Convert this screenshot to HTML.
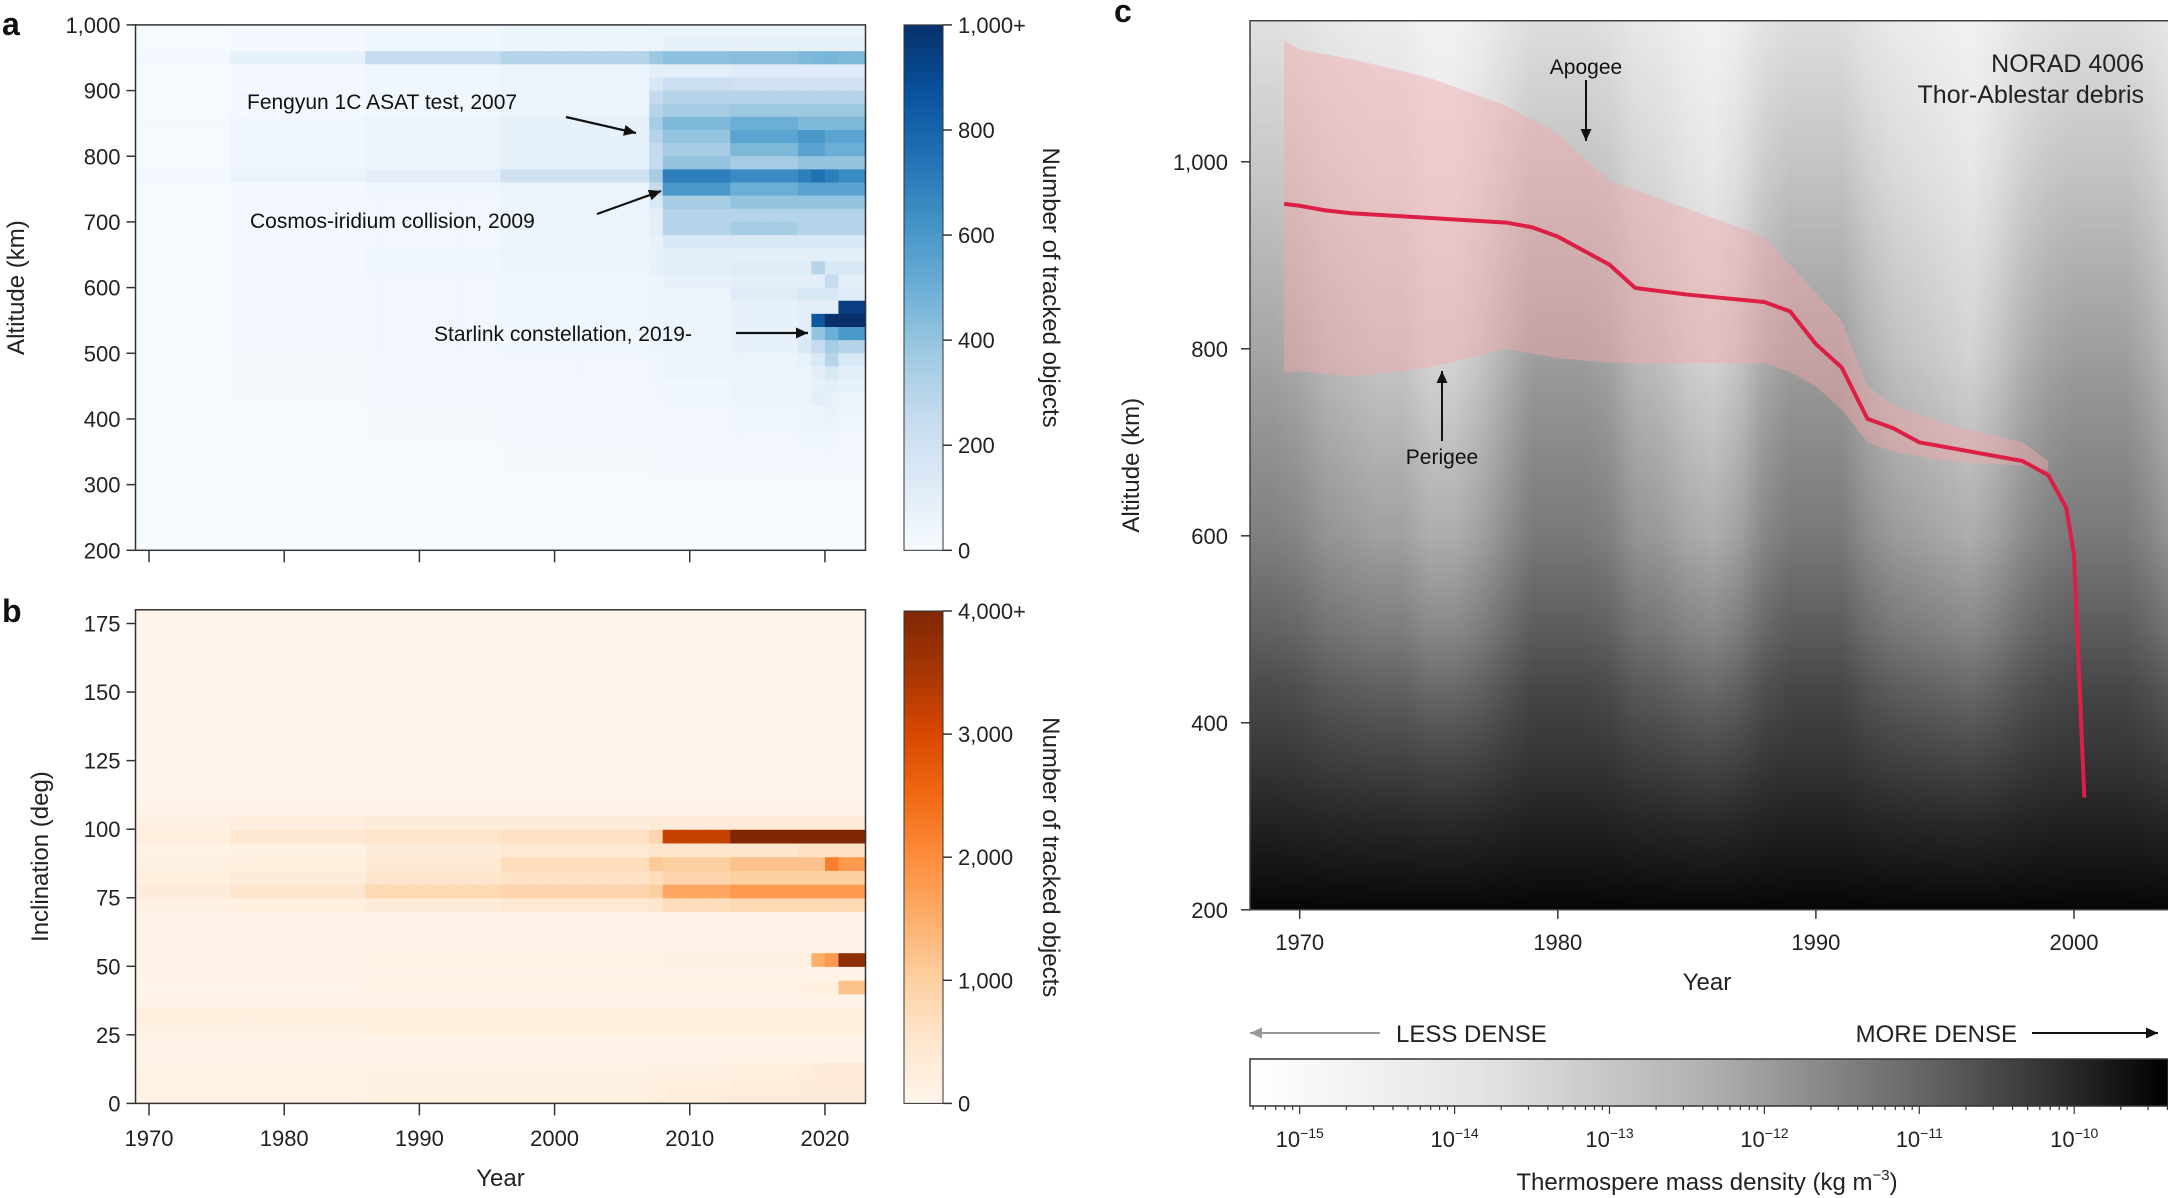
<!DOCTYPE html>
<html><head><meta charset="utf-8"><style>
html,body{margin:0;padding:0;background:#fff;}
svg{display:block;font-family:"Liberation Sans",sans-serif;}
</style></head><body>
<svg id="fig" width="2168" height="1198" viewBox="0 0 2168 1198" xmlns="http://www.w3.org/2000/svg">
<defs>
 <linearGradient id="blueBar" x1="0" y1="1" x2="0" y2="0">
  <stop offset="0" stop-color="#f7fbff"/><stop offset="0.125" stop-color="#deebf7"/><stop offset="0.25" stop-color="#c6dbef"/><stop offset="0.375" stop-color="#9ecae1"/><stop offset="0.5" stop-color="#6baed6"/><stop offset="0.625" stop-color="#4292c6"/><stop offset="0.75" stop-color="#2171b5"/><stop offset="0.875" stop-color="#08519c"/><stop offset="1" stop-color="#08306b"/>
 </linearGradient>
 <linearGradient id="orBar" x1="0" y1="1" x2="0" y2="0">
  <stop offset="0" stop-color="#fff5eb"/><stop offset="0.125" stop-color="#fee6ce"/><stop offset="0.25" stop-color="#fdd0a2"/><stop offset="0.375" stop-color="#fdae6b"/><stop offset="0.5" stop-color="#fd8d3c"/><stop offset="0.625" stop-color="#f16913"/><stop offset="0.75" stop-color="#d94801"/><stop offset="0.875" stop-color="#a63603"/><stop offset="1" stop-color="#7f2704"/>
 </linearGradient>
 <linearGradient id="grayBar" x1="0" y1="0" x2="1" y2="0">
  <stop offset="0" stop-color="#ffffff"/><stop offset="0.25" stop-color="#e4e4e4"/><stop offset="0.5" stop-color="#b0b0b0"/><stop offset="0.75" stop-color="#606060"/><stop offset="1" stop-color="#000"/>
 </linearGradient>
 <linearGradient id="cBase" x1="0" y1="0" x2="0" y2="1">
  <stop offset="0" stop-color="#f4f4f4"/><stop offset="0.17" stop-color="#ececec"/><stop offset="0.38" stop-color="#dadada"/><stop offset="0.58" stop-color="#b4b4b4"/><stop offset="0.69" stop-color="#8c8c8c"/><stop offset="0.79" stop-color="#5c5c5c"/><stop offset="0.9" stop-color="#2c2c2c"/><stop offset="1" stop-color="#080808"/>
 </linearGradient>
 <linearGradient id="cMaskGrad" x1="0" y1="0" x2="0" y2="1">
  <stop offset="0" stop-color="#fff" stop-opacity="0.25"/><stop offset="0.4" stop-color="#fff" stop-opacity="0.8"/><stop offset="0.75" stop-color="#fff" stop-opacity="1"/><stop offset="1" stop-color="#fff" stop-opacity="0.4"/>
 </linearGradient>
 <linearGradient id="cAct" x1="0" y1="0" x2="1" y2="0" id2="act"></linearGradient>
 <mask id="cMask"><rect x="1250" y="20.7" width="918" height="889.1" fill="url(#cMaskGrad)"/></mask>
</defs>
<g id="layer"></g>
</svg>
<script>
// ---------- Panel a data (altitude bins of 20 km, top to bottom 1000->200) ----------
const aPeriodStarts = [1969,1976,1986,1996,2007,2008,2013,2018,2019,2020,2021];
const aRows = [
 [10,20,40,50,60,60,60,60,60,60,60],
 [10,20,40,50,60,80,80,80,80,80,80],
 [20,80,250,300,380,420,430,450,460,470,450],
 [10,20,40,60,100,100,120,120,120,120,120],
 [10,20,40,60,150,220,200,200,200,200,200],
 [10,20,40,60,250,300,300,300,300,300,300],
 [10,20,40,60,300,350,380,380,380,380,380],
 [15,40,60,80,350,450,500,450,450,450,450],
 [10,40,60,80,300,400,550,600,600,550,550],
 [10,40,60,80,250,350,450,550,550,500,500],
 [10,40,60,80,250,400,350,400,400,400,400],
 [20,60,100,200,350,700,650,700,750,700,650],
 [10,20,40,60,250,600,500,550,550,550,550],
 [10,20,30,60,150,350,400,400,400,400,400],
 [10,20,30,60,100,300,300,300,300,300,300],
 [10,20,30,50,100,300,350,300,300,300,300],
 [10,20,30,50,80,150,150,150,150,150,150],
 [10,20,40,60,80,100,100,100,100,100,100],
 [10,20,40,50,80,100,120,120,300,150,150],
 [10,20,30,40,60,80,100,100,100,250,100],
 [10,20,30,40,50,60,120,150,150,150,120],
 [10,20,30,40,50,60,80,100,100,100,950],
 [10,20,30,40,50,60,80,100,850,1000,1000],
 [10,20,30,40,50,60,80,120,400,500,600],
 [10,20,30,40,50,60,80,150,250,350,300],
 [10,15,20,30,40,50,60,80,150,300,150],
 [10,15,20,30,40,50,60,60,100,150,100],
 [10,15,20,25,30,40,50,60,80,100,80],
 [10,15,20,25,30,40,50,60,100,80,60],
 [10,10,15,20,25,30,40,50,60,70,50],
 [10,10,15,20,25,30,40,50,60,60,40],
 [10,10,15,20,20,25,30,40,40,40,30],
 [10,10,10,15,20,20,25,30,30,30,20],
 [10,10,10,15,15,20,20,20,20,20,20],
 [10,10,10,10,15,15,15,15,15,15,15],
 [10,10,10,10,10,10,10,10,10,10,10],
 [10,10,10,10,10,10,10,10,10,10,10],
 [10,10,10,10,10,10,10,10,10,10,10],
 [10,10,10,10,10,10,10,10,10,10,10],
 [10,10,10,10,10,10,10,10,10,10,10]
];
const aYTicks = [200,300,400,500,600,700,800,900,1000];
const aYTickLabels = ["200","300","400","500","600","700","800","900","1,000"];
const aCbTicks = [0,200,400,600,800,1000];
const aCbLabels = ["0","200","400","600","800","1,000+"];
// ---------- Panel b data (inclination bins of 5 deg, bottom to top 0->180) ----------
const bRowsByBin = {
 0:[100,100,150,150,200,250,300,300,300,300,300],
 1:[100,100,150,150,200,200,250,300,350,350,350],
 2:[80,80,100,120,150,150,200,250,300,350,350],
 5:[150,150,200,200,200,200,200,200,200,200,200],
 6:[200,200,200,200,200,200,200,200,200,200,200],
 8:[50,50,80,80,100,100,120,150,200,200,1200],
 10:[60,60,80,100,120,150,150,150,1500,1800,3800],
 14:[150,200,300,400,500,700,800,800,800,800,800],
 15:[300,500,800,900,1000,1600,1800,1800,1800,1800,1800],
 16:[200,300,500,600,700,900,1000,1000,1000,1000,1000],
 17:[150,200,400,700,1100,1000,1200,1200,1200,2200,1800],
 18:[100,150,300,400,500,500,500,600,600,600,600],
 19:[200,450,550,600,900,3200,4000,4000,4000,4000,4000],
 20:[150,250,300,300,350,350,350,350,350,350,350]
};
const bYTicks = [0,25,50,75,100,125,150,175];
const bCbTicks = [0,1000,2000,3000,4000];
const bCbLabels = ["0","1,000","2,000","3,000","4,000+"];
const abXTicks = [1970,1980,1990,2000,2010,2020];
// ---------- Panel c data ----------
const cYears   = [1969.4,1970,1971,1972,1975,1978,1979,1980,1981,1982,1983,1985,1988,1989,1990,1991,1992,1993,1994,1996,1998,1999,1999.7,2000.0,2000.2,2000.4];
const cMeanAlt = [955,953,948,945,940,935,930,920,905,890,865,858,850,840,805,780,725,715,700,690,680,665,630,580,450,320];
const cBandYears = [1969.4,1970,1972,1975,1978,1980,1982,1985,1988,1989,1990,1991,1992,1993,1995,1998,1999];
const cApogee  = [1130,1120,1110,1090,1060,1030,980,950,920,890,860,830,760,740,720,700,680];
const cPerigee = [775,776,770,780,800,790,785,785,785,775,760,735,700,690,680,675,670];
const cActYears = [1968,1969,1970,1971,1972,1973,1974,1975,1976,1977,1978,1979,1980,1981,1982,1983,1984,1985,1986,1987,1988,1989,1990,1991,1992,1993,1994,1995,1996,1997,1998,1999,2000,2001,2002,2003,2004];
const cActivity = [0.8,0.8,0.7,0.5,0.4,0.3,0.3,0.1,0.1,0.3,0.6,0.9,0.9,0.9,0.8,0.5,0.4,0.2,0.1,0.3,0.7,0.9,0.9,0.9,0.6,0.4,0.3,0.2,0.1,0.3,0.6,0.8,0.9,0.9,0.9,0.7,0.5];
const cXTicks = [1970,1980,1990,2000];
const cYTicks = [200,400,600,800,1000];
const cYTickLabels = ["200","400","600","800","1,000"];
const cDensTicks = [-15,-14,-13,-12,-11,-10];

const NS="http://www.w3.org/2000/svg";
const layer=document.getElementById('layer');
function el(tag,attrs,parent){const e=document.createElementNS(NS,tag);for(const k in attrs)e.setAttribute(k,attrs[k]);(parent||layer).appendChild(e);return e;}
function txt(s,attrs,parent){const e=el('text',attrs,parent);e.textContent=s;return e;}
function lerpColor(stops,t){t=Math.max(0,Math.min(1,t));const n=stops.length-1;const i=Math.min(n-1,Math.floor(t*n));const f=t*n-i;const a=stops[i],b=stops[i+1];const h=x=>[parseInt(x.slice(1,3),16),parseInt(x.slice(3,5),16),parseInt(x.slice(5,7),16)];const A=h(a),B=h(b);return 'rgb('+A.map((v,k)=>Math.round(v+(B[k]-v)*f)).join(',')+')';}
const blues=["#f7fbff","#deebf7","#c6dbef","#9ecae1","#6baed6","#4292c6","#2171b5","#08519c","#08306b"];
const oranges=["#fff5eb","#fee6ce","#fdd0a2","#fdae6b","#fd8d3c","#f16913","#d94801","#a63603","#7f2704"];
function periodIdx(y){let p=0;for(let i=0;i<aPeriodStarts.length;i++)if(y>=aPeriodStarts[i])p=i;return p;}

// axes a/b
const abL=135.5,abR=865.5,yr0=1969,yr1=2023;
const abX=y=>abL+(y-yr0)/(yr1-yr0)*(abR-abL);
const aT=24.9,aB=550.3; const aY=v=>aB-(v-200)/800*(aB-aT);
const bT=609.8,bB=1103.4; const bY=v=>bB-v/180*(bB-bT);

// Panel a heatmap
const ga=el('g',{});


aRows.forEach((row,r)=>{
  const top=1000-r*20;
  for(let y=1969;y<=2022;y++){
    const v=row[periodIdx(y)];
    const c=el('rect',{x:abX(y),y:aY(top),width:abX(y+1)-abX(y)+0.6,height:aY(top-20)-aY(top)+0.6,fill:lerpColor(blues,v/1000)},ga);
    
    
  }
});
el('rect',{x:abL,y:aT,width:abR-abL,height:aB-aT,fill:'none',stroke:'#333','stroke-width':1.5});
// Panel b heatmap
const gb=el('g',{});


for(let bin=0;bin<36;bin++){
  const row=bRowsByBin[bin];
  for(let y=1969;y<=2022;y++){
    const v=row?row[periodIdx(y)]:(bin<22?60:30);
    const c=el('rect',{x:abX(y),y:bY(bin*5+5),width:abX(y+1)-abX(y)+0.6,height:bY(bin*5)-bY(bin*5+5)+0.6,fill:lerpColor(oranges,v/4000)},gb);
    
    
  }
}
el('rect',{x:abL,y:bT,width:abR-abL,height:bB-bT,fill:'none',stroke:'#333','stroke-width':1.5});

const FS=22;
// a y ticks
aYTicks.forEach((v,i)=>{const y=aY(v);el('line',{x1:abL-9,x2:abL,y1:y,y2:y,stroke:'#333','stroke-width':1.5});
 const t=txt(aYTickLabels[i],{x:abL-15,y:y+8,'text-anchor':'end','font-size':FS,fill:'#222'});});
bYTicks.forEach(v=>{const y=bY(v);el('line',{x1:abL-9,x2:abL,y1:y,y2:y,stroke:'#333','stroke-width':1.5});
 const t=txt(String(v),{x:abL-15,y:y+8,'text-anchor':'end','font-size':FS,fill:'#222'});});
abXTicks.forEach(v=>{const x=abX(v);
 el('line',{x1:x,x2:x,y1:aB,y2:aB+12,stroke:'#333','stroke-width':1.5});
 el('line',{x1:x,x2:x,y1:bB,y2:bB+12,stroke:'#333','stroke-width':1.5});
 const t=txt(String(v),{x:x,y:1146,'text-anchor':'middle','font-size':FS,fill:'#222'});});
// colorbars
function cbar(x0,y0,y1,grad,ticks,labels,maxv,name){
 const r=el('rect',{x:x0,y:y0,width:39,height:y1-y0,fill:'url(#'+grad+')',stroke:'#333','stroke-width':1});
 
 ticks.forEach((v,i)=>{const y=y1-v/maxv*(y1-y0);el('line',{x1:x0+39,x2:x0+48,y1:y,y2:y,stroke:'#333','stroke-width':1.5});
  const t=txt(labels[i],{x:x0+54,y:y+8,'font-size':FS,fill:'#222'});});
 const t=txt('Number of tracked objects',{x:0,y:0,'font-size':24,fill:'#222','text-anchor':'middle',transform:'translate(1043,'+((y0+y1)/2)+') rotate(90)'});
 
}
cbar(904,aT,aB,'blueBar',aCbTicks,aCbLabels,1000,'colorbar-a');
cbar(904,611,bB,'orBar',bCbTicks,bCbLabels,4000,'colorbar-b');
// axis titles
let t;
t=txt('Altitude (km)',{x:0,y:0,'font-size':24,fill:'#222','text-anchor':'middle',transform:'translate(24,'+((aT+aB)/2)+') rotate(-90)'});
t=txt('Inclination (deg)',{x:0,y:0,'font-size':24,fill:'#222','text-anchor':'middle',transform:'translate(48,'+((bT+bB)/2)+') rotate(-90)'});
t=txt('Year',{x:(abL+abR)/2,y:1186,'font-size':24,fill:'#222','text-anchor':'middle'});
t=txt('a',{x:2,y:35,'font-size':32,'font-weight':'bold',fill:'#111'});
t=txt('b',{x:2,y:622,'font-size':32,'font-weight':'bold',fill:'#111'});
t=txt('c',{x:1114,y:22,'font-size':32,'font-weight':'bold',fill:'#111'});
// annotations a
function arrow(x1,y1,x2,y2,col,w){el('line',{x1:x1,y1:y1,x2:x2,y2:y2,stroke:col,'stroke-width':w||2.2});const a=Math.atan2(y2-y1,x2-x1),L=12,W=5.5;
 const p=[[x2,y2],[x2-L*Math.cos(a)+W*Math.sin(a),y2-L*Math.sin(a)-W*Math.cos(a)],[x2-L*Math.cos(a)-W*Math.sin(a),y2-L*Math.sin(a)+W*Math.cos(a)]];
 el('polygon',{points:p.map(q=>q.join(',')).join(' '),fill:col});}
t=txt('Fengyun 1C ASAT test, 2007',{x:247,y:109,'font-size':21,fill:'#111'});
arrow(566,117,636,133,'#111');
t=txt('Cosmos-iridium collision, 2009',{x:250,y:228,'font-size':21,fill:'#111'});
arrow(597,214,661,191,'#111');
t=txt('Starlink constellation, 2019-',{x:434,y:341,'font-size':21,fill:'#111'});
arrow(736,333,808,333,'#111');

// ---------- Panel c ----------
const cL=1250,cR=2168,cT=20.7,cB=909.8;
const cX=y=>1299.7+(y-1970)*25.81;
const cY=v=>cB-(v-200)*0.935;
el('rect',{x:cL,y:cT,width:cR-cL,height:cB-cT,fill:'url(#cBase)'});
const act=document.getElementById('cAct');
act.setAttribute('gradientUnits','userSpaceOnUse');act.setAttribute('x1',cL);act.setAttribute('x2',cR);act.setAttribute('y1',0);act.setAttribute('y2',0);
cActYears.forEach((y,i)=>{const s=document.createElementNS(NS,'stop');s.setAttribute('offset',Math.max(0,Math.min(1,(cX(y)-cL)/(cR-cL))));s.setAttribute('stop-color','#000');s.setAttribute('stop-opacity',cActivity[i]*0.4);act.appendChild(s);});
const ov=el('rect',{x:cL,y:cT,width:cR-cL,height:cB-cT,fill:'url(#cAct)',mask:'url(#cMask)'});

// band
let pts=cBandYears.map((y,i)=>cX(y)+','+cY(cApogee[i]));
pts=pts.concat(cBandYears.map((y,i)=>cX(y)+','+cY(cPerigee[i])).reverse());
const band=el('polygon',{points:pts.join(' '),fill:'#f4a6ab','fill-opacity':0.45});

const line=el('polyline',{points:cYears.map((y,i)=>cX(y)+','+cY(cMeanAlt[i])).join(' '),fill:'none',stroke:'#dc1f45','stroke-width':4,'stroke-linejoin':'round'});

el('polyline',{points:cL+','+cB+' '+cL+','+cT+' '+cR+','+cT,fill:'none',stroke:'#444','stroke-width':1.5});
el('line',{x1:cL,x2:cR,y1:cB,y2:cB,stroke:'#444','stroke-width':1.5});
cYTicks.forEach((v,i)=>{const y=cY(v);el('line',{x1:cL-9,x2:cL,y1:y,y2:y,stroke:'#333','stroke-width':1.5});
 const t=txt(cYTickLabels[i],{x:cL-22,y:y+8,'text-anchor':'end','font-size':FS,fill:'#222'});});
cXTicks.forEach(v=>{const x=cX(v);el('line',{x1:x,x2:x,y1:cB,y2:cB+9,stroke:'#333','stroke-width':1.5});
 const t=txt(String(v),{x:x,y:950,'text-anchor':'middle','font-size':FS,fill:'#222'});});
t=txt('Altitude (km)',{x:0,y:0,'font-size':24,fill:'#222','text-anchor':'middle',transform:'translate(1139,'+((cT+cB)/2)+') rotate(-90)'});
t=txt('Year',{x:1707,y:990,'font-size':24,fill:'#222','text-anchor':'middle'});
t=txt('NORAD 4006',{x:2144,y:72,'font-size':25,fill:'#222','text-anchor':'end'});
t=txt('Thor-Ablestar debris',{x:2144,y:103,'font-size':25,fill:'#222','text-anchor':'end'});
t=txt('Apogee',{x:1586,y:74,'font-size':21,fill:'#111','text-anchor':'middle'});
arrow(1586,80,1586,141,'#111',2);
t=txt('Perigee',{x:1442,y:464,'font-size':21,fill:'#111','text-anchor':'middle'});
arrow(1442,441,1442,371,'#111',2);
// density legend
arrow(1380,1033,1250,1033,'#999',2);
t=txt('LESS DENSE',{x:1396,y:1042,'font-size':24,fill:'#222'});
t=txt('MORE DENSE',{x:2017,y:1042,'font-size':24,fill:'#222','text-anchor':'end'});
arrow(2032,1033,2158,1033,'#111',2);
const cb=el('rect',{x:cL,y:1059,width:cR-cL,height:47,fill:'url(#grayBar)',stroke:'#333','stroke-width':1.5});

const dX=e=>1299.7+(e+15)*154.9;
for(let e=-16;e<=-9;e++){for(let m=1;m<10;m++){const x=dX(e+Math.log10(m));if(x<cL||x>cR)continue;el('line',{x1:x,x2:x,y1:1106,y2:1106+(m===1?8:4),stroke:'#333','stroke-width':1.2});}}
cDensTicks.forEach(e=>{const x=dX(e);const tt=el('text',{x:x,y:1147,'text-anchor':'middle','font-size':22,fill:'#222'});
 tt.appendChild(document.createTextNode('10'));const s=document.createElementNS(NS,'tspan');s.setAttribute('dy','-9');s.setAttribute('font-size','14');s.textContent='−'+(-e);tt.appendChild(s);});
const ttl=el('text',{x:1707,y:1190,'text-anchor':'middle','font-size':24,fill:'#222'});
ttl.appendChild(document.createTextNode('Thermospere mass density (kg m'));
const sp=document.createElementNS(NS,'tspan');sp.setAttribute('dy','-10');sp.setAttribute('font-size','15');sp.textContent='−3';ttl.appendChild(sp);
const sp2=document.createElementNS(NS,'tspan');sp2.setAttribute('dy','10');sp2.textContent=')';ttl.appendChild(sp2);
</script>
</body></html>
